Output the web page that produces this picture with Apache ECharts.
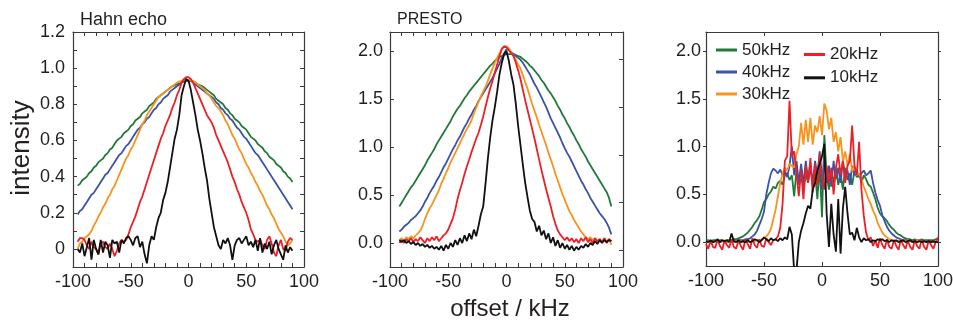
<!DOCTYPE html>
<html><head><meta charset="utf-8">
<script src="https://cdn.jsdelivr.net/npm/echarts@6/dist/echarts.min.js"></script>
<style>html,body{margin:0;padding:0;background:#fff}#c{width:953px;height:320px}</style>
</head><body><div id="c"></div>
<script>
// ---------- sampling grids (kHz) ----------
const X1 = [-96,-94,-92,-90,-88,-86,-84,-82,-80,-78,
-76,-74,-72,-70,-68,-66,-64,-62,-60,-58,
-56,-54,-52,-50,-48,-46,-44,-42,-40,-38,
-36,-34,-32,-30,-28,-26,-24,-22,-20,-18,
-16,-14,-12,-10,-8,-6,-4,-2,0,2,
4,6,8,10,12,14,16,18,20,22,
24,26,28,30,32,34,36,38,40,42,
44,46,48,50,52,54,56,58,60,62,
64,66,68,70,72,74,76,78,80,82,
84,86,88,90];
const X2 = [-92,-90,-88,-86,-84,-82,-80,-78,-76,-74,
-72,-70,-68,-66,-64,-62,-60,-58,-56,-54,
-52,-50,-48,-46,-44,-42,-40,-38,-36,-34,
-32,-30,-28,-26,-24,-22,-20,-18,-16,-14,
-12,-10,-8,-6,-4,-2,0,2,4,6,
8,10,12,14,16,18,20,22,24,26,
28,30,32,34,36,38,40,42,44,46,
48,50,52,54,56,58,60,62,64,66,
68,70,72,74,76,78,80,82,84,86,
88,90];
const X3 = [-100,-98,-96,-94,-92,-90,-88,-86,-84,-82,
-80,-78,-76,-74,-72,-70,-68,-66,-64,-62,
-60,-58,-56,-54,-52,-50,-48,-46,-44,-42,
-40,-38,-36,-34,-32,-30,-28,-26,-24,-22,
-20,-18,-16,-14,-12,-10,-8,-6,-4,-2,
0,2,4,6,8,10,12,14,16,18,
20,22,24,26,28,30,32,34,36,38,
40,42,44,46,48,50,52,54,56,58,
60,62,64,66,68,70,72,74,76,78,
80,82,84,86,88,90,92,94,96,98,
100];

// ---------- panel 1: Hahn echo ----------
const hahn50 = [0.35,0.36,0.38,0.39,0.40,0.42,0.43,0.45,0.46,0.48,
0.49,0.50,0.52,0.53,0.55,0.56,0.58,0.60,0.61,0.62,
0.64,0.65,0.66,0.68,0.69,0.71,0.72,0.73,0.75,0.76,
0.77,0.79,0.80,0.81,0.83,0.84,0.85,0.86,0.87,0.88,
0.89,0.90,0.905,0.91,0.915,0.92,0.925,0.93,0.93,0.93,
0.925,0.92,0.91,0.905,0.90,0.89,0.88,0.87,0.86,0.85,
0.83,0.82,0.81,0.80,0.78,0.77,0.75,0.74,0.72,0.71,
0.70,0.68,0.67,0.66,0.64,0.62,0.61,0.60,0.58,0.57,
0.56,0.54,0.53,0.51,0.50,0.49,0.47,0.46,0.45,0.43,
0.42,0.40,0.39,0.37];
const hahn40 = [0.19,0.21,0.22,0.24,0.26,0.28,0.30,0.31,0.33,0.35,
0.37,0.39,0.41,0.42,0.44,0.46,0.48,0.50,0.52,0.53,
0.55,0.57,0.58,0.60,0.62,0.64,0.66,0.67,0.69,0.70,
0.72,0.73,0.75,0.77,0.78,0.80,0.81,0.83,0.84,0.85,
0.87,0.88,0.89,0.90,0.91,0.92,0.93,0.93,0.93,0.93,
0.92,0.91,0.90,0.89,0.88,0.87,0.86,0.85,0.84,0.83,
0.81,0.80,0.78,0.77,0.75,0.74,0.72,0.71,0.69,0.67,
0.66,0.64,0.62,0.61,0.59,0.57,0.55,0.53,0.52,0.50,
0.48,0.46,0.44,0.42,0.40,0.38,0.36,0.34,0.32,0.30,
0.28,0.26,0.24,0.22];
const hahn30 = [0.00,0.03,0.04,0.06,0.07,0.08,0.10,0.13,0.15,0.18,
0.20,0.23,0.25,0.28,0.30,0.33,0.35,0.38,0.41,0.44,
0.47,0.50,0.52,0.55,0.57,0.60,0.63,0.66,0.69,0.71,
0.74,0.76,0.78,0.80,0.82,0.84,0.85,0.86,0.87,0.88,
0.89,0.90,0.91,0.92,0.925,0.93,0.935,0.935,0.935,0.93,
0.93,0.92,0.91,0.90,0.89,0.88,0.86,0.85,0.83,0.81,
0.79,0.78,0.76,0.74,0.71,0.69,0.66,0.63,0.61,0.58,
0.55,0.53,0.50,0.47,0.45,0.42,0.40,0.37,0.35,0.32,
0.30,0.27,0.24,0.22,0.19,0.17,0.14,0.11,0.09,0.07,
0.04,0.02,0.03,0.05];
const hahn20 = [0.04,0.06,0.06,0.05,0.02,0.00,0.04,0.01,0.00,-0.03,
0.03,0.04,0.01,0.00,0.03,0.00,-0.04,-0.01,0.03,0.05,
0.04,0.05,0.08,0.12,0.15,0.18,0.22,0.26,0.29,0.33,
0.37,0.41,0.45,0.49,0.53,0.57,0.61,0.64,0.68,0.71,
0.74,0.78,0.81,0.85,0.88,0.92,0.94,0.95,0.95,0.94,
0.92,0.89,0.86,0.83,0.80,0.77,0.74,0.72,0.70,0.67,
0.63,0.60,0.57,0.54,0.51,0.48,0.44,0.40,0.37,0.33,
0.30,0.26,0.23,0.20,0.16,0.11,0.08,0.05,0.04,0.05,
0.02,0.00,0.05,0.07,0.03,-0.02,-0.04,0.02,0.05,0.00,
-0.01,0.04,0.06,0.05];
const hahn10 = [0.00,-0.02,0.03,-0.04,0.01,0.06,-0.06,0.05,0.00,-0.03,
0.05,-0.02,0.04,0.02,-0.05,0.05,0.03,0.04,-0.02,0.05,
0.03,0.06,0.07,0.05,0.02,0.06,0.07,0.01,0.04,-0.03,
-0.08,0.02,0.07,0.05,0.12,0.17,0.20,0.27,0.31,0.37,
0.45,0.53,0.61,0.66,0.74,0.85,0.90,0.94,0.93,0.88,
0.81,0.74,0.66,0.60,0.53,0.45,0.38,0.28,0.20,0.12,
0.07,0.02,0.00,0.05,0.03,0.06,0.02,-0.06,0.02,0.05,
0.06,0.03,0.05,0.07,0.02,0.04,0.01,0.05,-0.01,0.06,
-0.02,0.03,0.00,0.04,-0.03,0.02,0.05,0.00,-0.03,-0.06,
0.02,-0.02,0.01,-0.01];

// ---------- panel 2: PRESTO ----------
const presto50 = [0.38,0.42,0.46,0.50,0.54,0.58,0.61,0.65,0.69,0.73,
0.77,0.81,0.86,0.90,0.94,0.98,1.03,1.07,1.11,1.15,
1.19,1.23,1.27,1.32,1.36,1.40,1.43,1.47,1.51,1.54,
1.58,1.61,1.64,1.67,1.70,1.73,1.76,1.79,1.82,1.85,
1.87,1.90,1.92,1.94,1.95,1.96,1.97,1.97,1.97,1.97,
1.96,1.95,1.94,1.92,1.90,1.88,1.85,1.83,1.80,1.77,
1.74,1.70,1.67,1.63,1.59,1.56,1.52,1.48,1.43,1.39,
1.34,1.30,1.25,1.21,1.16,1.12,1.07,1.03,0.98,0.94,
0.90,0.85,0.81,0.77,0.73,0.69,0.65,0.61,0.57,0.53,
0.47,0.38];
const presto40 = [0.12,0.14,0.17,0.19,0.21,0.24,0.26,0.28,0.31,0.34,
0.38,0.43,0.47,0.52,0.56,0.60,0.65,0.69,0.74,0.79,
0.83,0.88,0.93,0.98,1.02,1.07,1.11,1.16,1.21,1.25,
1.30,1.34,1.39,1.43,1.48,1.52,1.56,1.60,1.64,1.68,
1.72,1.77,1.82,1.87,1.93,1.98,2.02,2.01,1.99,1.97,
1.95,1.93,1.91,1.88,1.84,1.80,1.76,1.71,1.66,1.62,
1.57,1.52,1.47,1.42,1.36,1.30,1.25,1.20,1.15,1.10,
1.04,0.99,0.94,0.90,0.85,0.80,0.75,0.70,0.65,0.61,
0.56,0.52,0.47,0.43,0.39,0.35,0.31,0.28,0.25,0.21,
0.16,0.09];
const presto30 = [0.03,0.05,0.02,0.06,0.04,0.07,0.05,0.08,0.10,0.13,
0.18,0.25,0.31,0.36,0.40,0.45,0.50,0.55,0.62,0.67,
0.73,0.78,0.84,0.89,0.94,0.99,1.04,1.09,1.14,1.19,
1.23,1.28,1.35,1.41,1.47,1.53,1.58,1.63,1.69,1.76,
1.82,1.88,1.93,1.98,2.03,2.05,2.05,2.03,1.99,1.95,
1.91,1.86,1.82,1.75,1.68,1.61,1.53,1.45,1.38,1.31,
1.23,1.16,1.09,1.02,0.94,0.87,0.80,0.72,0.65,0.58,
0.51,0.45,0.39,0.33,0.29,0.24,0.20,0.16,0.12,0.09,
0.06,0.04,0.06,0.03,0.05,0.02,0.04,0.01,0.05,0.02,
0.04,-0.02];
const presto20 = [0.00,0.03,0.00,0.04,0.02,0.05,0.01,0.04,0.02,0.06,
0.03,0.00,0.05,0.02,0.06,0.03,0.07,0.02,0.05,0.08,
0.10,0.14,0.20,0.26,0.35,0.46,0.55,0.63,0.72,0.80,
0.87,0.95,1.02,1.09,1.15,1.23,1.32,1.42,1.52,1.61,
1.69,1.78,1.86,1.95,2.02,2.05,2.04,2.01,1.98,1.95,
1.88,1.80,1.71,1.60,1.49,1.39,1.29,1.19,1.09,0.98,
0.87,0.76,0.66,0.56,0.47,0.38,0.28,0.20,0.13,0.09,
0.06,0.03,0.06,0.02,0.05,0.01,0.04,0.00,0.05,0.02,
0.06,0.01,0.04,0.00,0.05,0.02,0.04,0.01,0.05,0.00,
0.04,0.02];
const presto10 = [0.03,0.01,0.03,0.00,0.02,-0.01,0.01,-0.02,0.00,-0.03,
-0.01,-0.04,-0.02,-0.05,-0.03,-0.06,-0.04,-0.07,-0.03,-0.08,
-0.02,-0.06,0.00,-0.04,0.03,-0.02,0.05,0.00,0.08,0.02,
0.10,0.04,0.14,0.07,0.18,0.30,0.38,0.62,0.88,1.10,
1.28,1.42,1.58,1.76,1.88,1.97,2.00,1.90,1.76,1.65,
1.45,1.22,1.02,0.82,0.63,0.48,0.34,0.25,0.22,0.12,
0.18,0.08,0.13,0.04,0.10,0.00,0.06,-0.03,0.03,-0.05,
0.00,-0.06,-0.02,-0.07,-0.03,-0.08,-0.04,-0.07,-0.03,-0.05,
-0.01,-0.04,0.00,-0.02,0.02,-0.01,0.03,0.00,0.03,0.01,
0.03,0.02];

// ---------- panel 3 ----------
const diff50 = [0.02,0.02,0.01,0.02,0.02,0.01,0.02,0.02,0.01,0.02,
0.02,0.02,0.03,0.03,0.04,0.05,0.06,0.08,0.10,0.13,
0.16,0.20,0.23,0.27,0.34,0.42,0.45,0.50,0.53,0.58,
0.56,0.62,0.64,0.60,0.70,0.72,0.65,0.70,0.48,0.75,
0.60,0.78,0.55,0.72,0.62,0.80,0.58,0.74,0.45,0.80,
0.26,1.12,0.70,0.55,0.75,0.62,0.78,0.60,0.72,0.55,
0.78,0.65,0.72,0.60,0.75,0.68,0.72,0.62,0.70,0.66,
0.60,0.58,0.52,0.45,0.36,0.30,0.27,0.25,0.22,0.18,
0.15,0.13,0.10,0.08,0.07,0.05,0.04,0.03,0.03,0.02,
0.03,0.02,0.02,0.03,0.02,0.02,0.02,0.02,0.02,0.03,
0.03];
const diff40 = [0.01,0.01,0.01,0.00,0.01,0.01,0.00,0.01,0.01,0.01,
0.01,0.01,0.01,0.01,0.02,0.02,0.02,0.03,0.03,0.04,
0.06,0.08,0.12,0.18,0.24,0.32,0.50,0.62,0.72,0.77,
0.75,0.72,0.76,0.70,0.75,0.68,0.80,1.00,0.70,0.85,
0.62,0.82,0.60,0.85,0.65,0.82,0.60,0.85,0.70,0.95,
0.55,0.88,0.62,0.80,0.58,0.85,0.66,0.78,0.62,0.85,
0.68,0.75,0.60,0.80,0.70,0.75,0.68,0.72,0.75,0.70,
0.72,0.75,0.62,0.52,0.44,0.38,0.28,0.22,0.16,0.12,
0.09,0.07,0.05,0.04,0.03,0.02,0.02,0.02,0.01,0.01,
0.01,0.01,0.01,0.00,0.01,0.01,0.00,0.00,0.00,0.00,
0.00];
const diff30 = [0.00,0.01,0.00,0.00,0.01,0.00,0.00,0.01,-0.01,0.00,
0.01,0.00,0.00,0.01,0.00,0.01,0.00,0.00,0.01,0.00,
0.01,0.01,0.02,0.02,0.03,0.04,0.06,0.09,0.14,0.24,
0.34,0.48,0.62,0.72,0.78,0.75,0.82,0.80,0.78,0.92,
1.00,1.25,1.02,1.28,1.05,1.30,1.02,1.22,1.15,1.32,
1.12,1.45,1.38,1.18,1.30,1.05,1.15,0.95,1.10,0.85,
0.95,0.80,0.92,0.74,0.80,0.70,0.72,0.66,0.58,0.52,
0.45,0.40,0.33,0.28,0.20,0.15,0.10,0.07,0.05,0.03,
0.02,0.02,0.01,0.01,0.02,0.01,0.01,0.02,0.01,0.00,
0.01,0.02,0.01,0.00,0.01,0.00,0.01,0.00,0.01,0.00,
0.00];
const diff20 = [-0.02,-0.07,0.02,-0.05,-0.06,0.03,-0.04,-0.08,0.02,-0.03,
-0.06,0.03,-0.05,-0.07,0.02,-0.04,-0.08,0.03,-0.02,-0.07,
0.04,-0.03,-0.06,0.03,-0.04,-0.05,0.04,0.00,-0.03,0.02,
0.03,0.06,0.15,0.40,0.85,0.90,1.48,0.90,0.95,0.72,
0.48,0.75,0.45,0.80,0.62,0.88,0.52,0.82,0.60,0.92,
0.70,0.55,0.80,0.62,0.78,0.50,0.78,0.92,0.70,0.85,
0.62,0.80,0.85,1.22,0.80,0.70,1.05,0.55,0.28,0.10,
0.02,0.05,-0.04,0.02,-0.06,0.04,-0.03,-0.07,0.03,-0.05,
-0.07,0.02,-0.04,-0.08,0.03,-0.03,-0.07,0.02,-0.05,-0.08,
0.02,-0.04,-0.07,0.03,-0.05,-0.08,0.02,-0.03,-0.07,0.00,
0.05];
const diff10 = [0.01,0.00,0.02,0.00,0.01,0.03,0.00,0.02,0.01,0.02,
0.00,0.09,0.01,0.00,0.02,0.00,0.01,0.00,0.02,0.00,
0.01,0.03,0.02,0.00,0.02,0.05,0.03,0.01,0.04,0.02,
0.03,0.01,0.04,0.02,0.05,0.03,0.16,0.08,-0.30,-0.30,
0.00,0.12,0.20,0.30,0.38,0.35,0.55,0.62,0.75,0.82,
0.90,1.03,0.30,-0.05,0.40,0.08,-0.10,0.45,-0.12,0.35,
0.58,0.30,0.08,0.10,0.02,0.15,0.05,0.00,0.04,0.02,
0.03,0.00,0.02,0.01,0.03,0.02,0.03,0.01,0.02,0.00,
0.02,0.01,0.02,0.00,0.01,0.02,0.00,0.01,0.02,0.00,
0.01,0.00,0.01,0.00,0.01,0.00,0.01,0.00,0.01,0.00,
0.00];

// ---------- ticks / labels ----------
const X_LABELS = [-100,-50,0,50,100];
const X_MINOR = [-100,-90,-80,-70,-60,-50,-40,-30,-20,-10,0,10,20,30,40,50,60,70,80,90,100];
const X3_TICKS = [-50,0,50];
const Y1_LABELS = [0,0.2,0.4,0.6,0.8,1.0,1.2];
const Y1_MINOR = [-0.1,0,0.1,0.2,0.3,0.4,0.5,0.6,0.7,0.8,0.9,1.0,1.1,1.2];
const Y2_LABELS = [0,0.5,1.0,1.5,2.0];
const Y2_RIGHT = [-0.08,0.42,0.92,1.42,1.92];

const NAMES = ['50kHz','40kHz','30kHz','20kHz','10kHz'];
const COLORS = ['#23793a','#3b52a6','#f7941d','#ec1f26','#111111'];

const FONT = 'Liberation Sans';
const AX = '#3a3a3a';
const TXT = '#231f20';

function lineAx(){ return {show:true,onZero:false,lineStyle:{color:AX,width:1.2}}; }
function xBottom(g, ticks){
  return {type:'value',gridIndex:g,position:'bottom',min:-100,max:100,
    axisLine:lineAx(),
    axisTick:{show:true,inside:true,length:4,customValues:ticks,lineStyle:{color:AX,width:1}},
    axisLabel:{show:true,customValues:X_LABELS,margin:6,color:TXT,fontSize:18,fontFamily:FONT},
    splitLine:{show:false}};
}
function xTop(g, ticks){
  return {type:'value',gridIndex:g,position:'top',min:-100,max:100,
    axisLine:lineAx(),
    axisTick:{show:true,inside:true,length:4,customValues:ticks,lineStyle:{color:AX,width:1}},
    axisLabel:{show:false},splitLine:{show:false}};
}
function yLeft(g,min,max,ticks,labels,inside,fmt,margin){
  return {type:'value',gridIndex:g,position:'left',min:min,max:max,
    axisLine:lineAx(),
    axisTick:{show:true,inside:inside,length:inside?4:3,customValues:ticks,lineStyle:{color:AX,width:1}},
    axisLabel:{show:true,customValues:labels,margin:margin,color:TXT,fontSize:18,fontFamily:FONT,formatter:fmt},
    splitLine:{show:false}};
}
function yRight(g,min,max,ticks,inside){
  return {type:'value',gridIndex:g,position:'right',min:min,max:max,
    axisLine:lineAx(),
    axisTick:{show:true,inside:inside,length:inside?4:3,customValues:ticks,lineStyle:{color:AX,width:1}},
    axisLabel:{show:false},splitLine:{show:false}};
}
function mk(g, k, xs, ys){
  return {type:'line',name:NAMES[k],xAxisIndex:g*2,yAxisIndex:g*2,
    data:xs.map((x,i)=>[x,ys[i]]),showSymbol:false,symbol:'none',
    color:COLORS[k],lineStyle:{color:COLORS[k],width:1.8},itemStyle:{color:COLORS[k]},
    animation:false,z:2+k,clip:true};
}

const fmt1 = v => v===0 ? '0' : v.toFixed(1);
const fmt2 = v => v.toFixed(1);

const P1 = [hahn50,hahn40,hahn30,hahn20,hahn10];
const P2 = [presto50,presto40,presto30,presto20,presto10];
const P3 = [diff50,diff40,diff30,diff20,diff10];

const series = [];
P1.forEach((ys,k)=>series.push(mk(0,k,X1,ys)));
P2.forEach((ys,k)=>series.push(mk(1,k,X2,ys)));
P3.forEach((ys,k)=>series.push(mk(2,k,X3,ys)));

const legendCommon = {orient:'vertical',itemWidth:21,itemHeight:3,icon:'rect',padding:0,selectedMode:false,
  textStyle:{fontSize:17,color:TXT,fontFamily:FONT}};

const option = {
  backgroundColor:'#ffffff',
  animation:false,
  grid:[
    {left:73,top:32,width:231,height:235,outerBoundsMode:'none'},
    {left:390,top:32,width:233,height:235,outerBoundsMode:'none'},
    {left:706,top:32,width:232,height:234,outerBoundsMode:'none'}
  ],
  xAxis:[xBottom(0,X_MINOR),xTop(0,X_MINOR),xBottom(1,X_MINOR),xTop(1,X_MINOR),xBottom(2,X3_TICKS),xTop(2,X3_TICKS)],
  yAxis:[
    yLeft(0,-0.1,1.2,Y1_MINOR,Y1_LABELS,true,fmt1,8), yRight(0,-0.1,1.2,Y1_MINOR,true),
    yLeft(1,-0.25,2.2,Y2_LABELS,Y2_LABELS,true,fmt2,7), yRight(1,-0.25,2.2,Y2_RIGHT,true),
    yLeft(2,-0.25,2.2,Y2_LABELS,Y2_LABELS,false,fmt2,5), yRight(2,-0.25,2.2,Y2_LABELS,false)
  ],
  legend:[
    Object.assign({data:['50kHz','40kHz','30kHz'],left:716,top:41.5,itemGap:5},legendCommon),
    Object.assign({data:['20kHz','10kHz'],left:804,top:46,itemGap:6.3},legendCommon)
  ],
  graphic:[
    {type:'text',x:80,y:20,style:{text:'Hahn echo',font:'18px "Liberation Sans"',fill:TXT,align:'left',verticalAlign:'middle'}},
    {type:'text',x:397,y:20,style:{text:'PRESTO',font:'16px "Liberation Sans"',fill:TXT,align:'left',verticalAlign:'middle'}},
    {type:'text',x:22,y:148,rotation:Math.PI/2,style:{text:'intensity',font:'26px "Liberation Sans"',fill:TXT,align:'center',verticalAlign:'middle'}},
    {type:'text',x:510,y:309,style:{text:'offset / kHz',font:'24px "Liberation Sans"',fill:TXT,align:'center',verticalAlign:'middle'}}
  ],
  series:series
};

const chart = echarts.init(document.getElementById('c'),null,{renderer:'canvas'});
chart.setOption(option);
</script>
</body></html>
